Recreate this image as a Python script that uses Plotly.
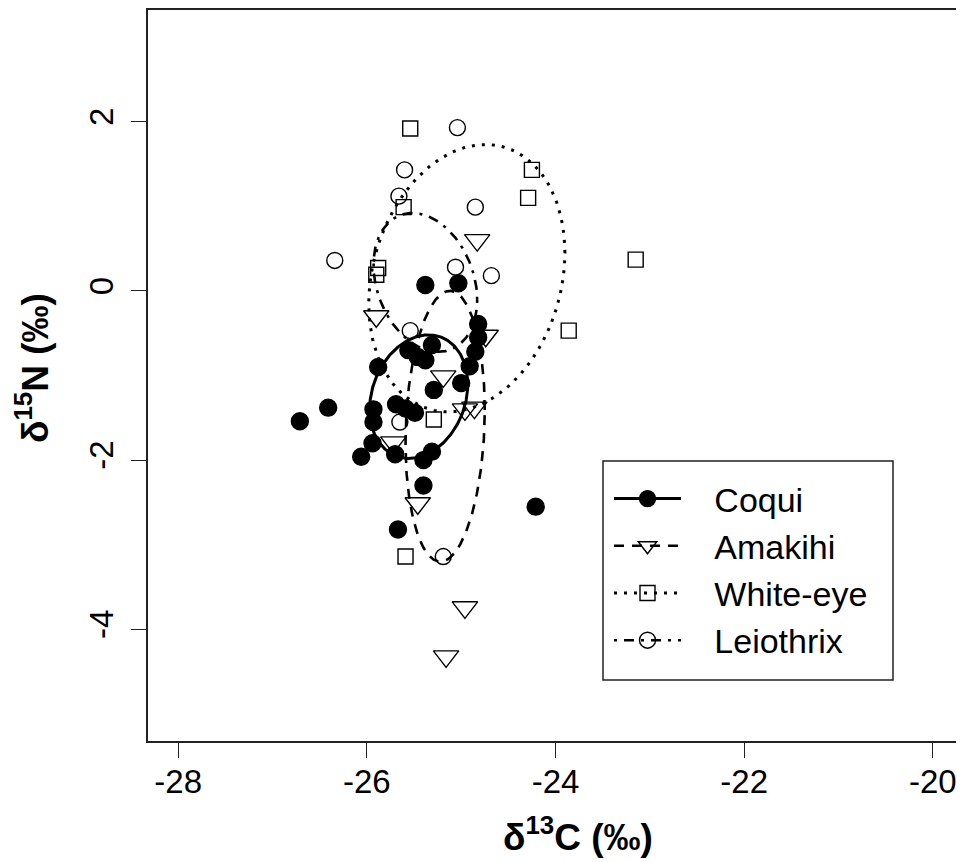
import numpy as np
import plotly.graph_objects as go

# ---- data ----
groups = ["Coqui", "Amakihi", "White-eye", "Leiothrix"]

coqui_x = [-26.71, -26.41, -26.06, -25.94, -25.93, -25.93, -25.88, -25.70, -25.69, -25.59,
           -25.49, -25.56, -25.46, -25.38, -25.31, -25.38, -25.03, -25.29, -25.40, -25.31,
           -25.40, -25.67, -24.21, -25.00, -24.91, -24.85, -24.82, -24.82]
coqui_y = [-1.54, -1.38, -1.96, -1.80, -1.55, -1.40, -0.90, -1.93, -1.34, -1.39,
           -1.44, -0.70, -0.78, -0.82, -0.64, 0.07, 0.09, -1.17, -2.00, -1.90,
           -2.30, -2.82, -2.55, -1.09, -0.89, -0.72, -0.55, -0.39]

amakihi_x = [-24.83, -25.90, -24.74, -25.19, -24.96, -24.86, -25.72, -25.46, -24.96, -25.16]
amakihi_y = [0.60, -0.30, -0.53, -1.01, -1.40, -1.38, -1.79, -2.51, -3.74, -4.32]

whiteeye_x = [-25.54, -24.25, -24.29, -25.61, -25.88, -25.90, -23.15, -23.86, -25.29, -25.59]
whiteeye_y = [1.92, 1.43, 1.10, 0.99, 0.27, 0.19, 0.37, -0.47, -1.52, -3.14]

leiothrix_x = [-25.04, -25.60, -25.66, -24.85, -26.34, -25.06, -24.68, -25.54, -25.65, -25.19]
leiothrix_y = [1.93, 1.43, 1.12, 0.99, 0.36, 0.28, 0.18, -0.47, -1.55, -3.14]

# standard ellipses: centre, half-extent in x and y, correlation
ell_cx = [-25.45, -25.17, -24.94, -25.38]
ell_cy = [-1.25, -1.60, 0.15, 0.10]
ell_hx = [0.52, 0.42, 1.04, 0.55]
ell_hy = [0.73, 1.60, 1.58, 0.82]
ell_r = [0.20, 0.12, 0.19, -0.25]

x_ticks = [-28, -26, -24, -22, -20]
y_ticks = [-4, -2, 0, 2]
x_lim = [-28, -20]
y_lim = [-5, 3]
x_title = "<b>δ<sup>13</sup>C (‰)</b>"
y_title = "<b>δ<sup>15</sup>N (‰)</b>"

# ---- styles ----
xs = [coqui_x, amakihi_x, whiteeye_x, leiothrix_x]
ys = [coqui_y, amakihi_y, whiteeye_y, leiothrix_y]
symbols = ["circle", "triangle-down-open", "square-open", "circle-open"]
msizes = [17, 22, 15, 16]
dashes = ["solid", "10px,8px", "3px,7px", "3px,7px,10px,7px"]
lwidths = [3, 2.6, 3, 2.6]

fig = go.Figure()

for i, g in enumerate(groups):
    fig.add_trace(go.Scatter(
        x=xs[i], y=ys[i], mode="markers", showlegend=False,
        marker=dict(symbol=symbols[i], size=msizes[i], color="black",
                    line=dict(color="black", width=1.4)),
    ))

t = np.linspace(0, 2 * np.pi, 300)
for i, g in enumerate(groups):
    r = ell_r[i]
    ex = ell_cx[i] + ell_hx[i] * np.cos(t)
    ey = ell_cy[i] + ell_hy[i] * (r * np.cos(t) + np.sqrt(1 - r * r) * np.sin(t))
    fig.add_trace(go.Scatter(
        x=ex, y=ey, mode="lines", showlegend=False,
        line=dict(color="black", width=lwidths[i], dash=dashes[i]),
    ))

pad = "\u00a0\u00a0\u00a0"
for i, g in enumerate(groups):
    fig.add_trace(go.Scatter(
        x=[None], y=[None], mode="lines+markers", name=pad + g, legendgroup=g,
        marker=dict(symbol=symbols[i], size=msizes[i], color="black",
                    line=dict(color="black", width=1.4)),
        line=dict(color="black", width=lwidths[i], dash=dashes[i]),
    ))

# page body has an 8px margin: figure placed at (8, 8) in the window
OFF = 8
W, H = 964 - OFF, 862 - OFF
L, R, T, B = 148 - OFF, 1, 10 - OFF, 862 - 741
pw, ph = W - L - R, H - T - B

def span(lim):
    d = (lim[1] - lim[0]) * 0.04
    return [lim[0] - d, lim[1] + d]

def px(xw):  # window x -> paper x
    return (xw - OFF - L) / pw

def py(yw):  # window y -> paper y
    return (H - B - (yw - OFF)) / ph

fig.update_layout(
    width=W, height=H,
    margin=dict(l=L, r=R, t=T, b=B, autoexpand=False),
    paper_bgcolor="white", plot_bgcolor="white",
    font=dict(family="Liberation Sans, Arial, sans-serif", color="black"),
    xaxis=dict(
        range=span(x_lim), tickvals=x_ticks, ticktext=[str(v) for v in x_ticks],
        ticks="outside", ticklen=15, tickwidth=1.3, tickcolor="#222",
        showline=True, linecolor="#222", linewidth=1.5, mirror=True,
        showgrid=False, zeroline=False, tickfont=dict(size=33), ticklabelstandoff=-4,
    ),
    yaxis=dict(
        range=span(y_lim), tickvals=y_ticks, ticktext=[str(v) for v in y_ticks],
        ticks="outside", ticklen=15, tickwidth=1.3, tickcolor="#222", tickangle=-90,
        showline=True, linecolor="#222", linewidth=1.5, mirror=True,
        showgrid=False, zeroline=False, tickfont=dict(size=33), ticklabelstandoff=5,
    ),
    annotations=[
        dict(text=x_title, xref="paper", yref="paper", x=px(578), y=py(834),
             xanchor="center", yanchor="middle", showarrow=False, font=dict(size=37)),
        dict(text=y_title, xref="paper", yref="paper", x=px(32), y=py(368),
             xanchor="center", yanchor="middle", showarrow=False, textangle=-90,
             font=dict(size=37)),
    ],
    legend=dict(
        x=px(609), y=py(470), xanchor="left", yanchor="top",
        bgcolor="rgba(0,0,0,0)", borderwidth=0,
        font=dict(size=34, color="black"), itemwidth=67, tracegroupgap=0,
    ),
    shapes=[dict(type="rect", xref="paper", yref="paper",
                 x0=px(603), x1=px(893), y0=py(680), y1=py(461),
                 line=dict(color="#222", width=1.5), fillcolor="white", layer="below")],
)

fig.write_html("out.html")
